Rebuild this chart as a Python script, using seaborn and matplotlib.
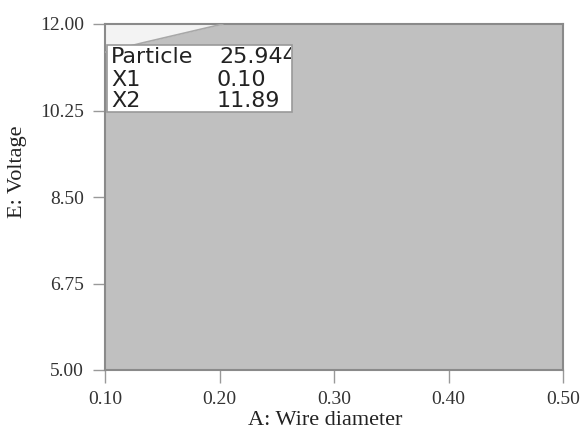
import matplotlib
matplotlib.use("Agg")
import matplotlib.pyplot as plt
import seaborn as sns
import numpy as np
import pandas as pd
from matplotlib.patches import Rectangle
from matplotlib.transforms import Bbox, TransformedBbox

# Data
x_ticks = [0.10, 0.20, 0.30, 0.40, 0.50]
y_ticks = [5.00, 6.75, 8.50, 10.25, 12.00]
x_range = [0.10, 0.50]
y_range = [5.00, 12.00]
# boundary of the unshaded (non-feasible) corner at top-left
boundary_x = [0.10, 0.133, 0.203]
boundary_y = [11.43, 11.62, 12.00]
flag_labels = ["Particle", "X1", "X2"]
flag_values = ["25.9446", "0.10", "11.89"]

sns.set_theme(style="white")
plt.rcParams['font.family'] = ['Liberation Serif', 'DejaVu Serif']

W, H = 582, 430
fig = plt.figure(figsize=(W/100, H/100), dpi=100)
ax = fig.add_axes([105/W, 60/H, 458/W, 346/H])

# shaded feasible region (gray) and light corner
ax.fill_between(x_range, y_range[0], y_range[1], color="#c0c0c0", lw=0, zorder=1)
ax.fill_between(boundary_x, boundary_y, y_range[1], color="#f3f3f3", lw=0, zorder=2)
df = pd.DataFrame({"x": boundary_x, "y": boundary_y})
sns.lineplot(data=df, x="x", y="y", ax=ax, color="#a8a8a8", lw=1.2, zorder=3)

ax.set_xlim(*x_range)
ax.set_ylim(*y_range)
ax.set_xticks(x_ticks)
ax.set_yticks(y_ticks)
ax.set_xticklabels([f"{v:.2f}" for v in x_ticks], fontsize=14, color="#333333")
ax.set_yticklabels([f"{v:.2f}" for v in y_ticks], fontsize=14, color="#333333")
ax.tick_params(axis="both", direction="out", length=9, width=1, color="#999999",
               bottom=True, left=True)
ax.tick_params(axis="x", pad=6)
ax.tick_params(axis="y", pad=6)
ax.set_xlabel("A: Wire diameter", fontsize=16, color="#222222")
ax.xaxis.label.set_va("baseline")
ax.xaxis.set_label_coords(0.48, -0.160)
ax.set_ylabel("E: Voltage", fontsize=16, color="#222222")
ax.yaxis.label.set_va("center")
ax.yaxis.set_label_coords(-0.192, 0.572)
for s in ax.spines.values():
    s.set_color("#8a8a8a")
    s.set_linewidth(1.5)
    s.set_visible(True)

# flag box
bx0, by0, bw, bh = 107, 45, 185, 67  # pixels from top-left
box = Rectangle((bx0/W, (H-by0-bh)/H), bw/W, bh/H, transform=fig.transFigure,
                facecolor="white", edgecolor="#999999", lw=1.2, zorder=5)
fig.patches.append(box)
clip = TransformedBbox(Bbox([[bx0/W, (H-by0-bh)/H], [(bx0+bw-1)/W, (H-by0)/H]]), fig.transFigure)
rows_y = [57, 79.5, 101]
sans = ['DejaVu Sans']
for lab, val, ry in zip(flag_labels, flag_values, rows_y):
    t1 = fig.text(111/W, (H-ry)/H, lab, fontsize=16, family=sans,
                  va="center", ha="left", color="#222222", zorder=6)
    x0 = 219 if lab == "Particle" else 217
    t2 = fig.text(x0/W, (H-ry)/H, val, fontsize=16, family=sans,
                  va="center", ha="left", color="#222222", zorder=6)
    for t in (t1, t2):
        t.set_clip_box(clip)
        t.set_clip_on(True)

fig.savefig("out.png", dpi=100)
